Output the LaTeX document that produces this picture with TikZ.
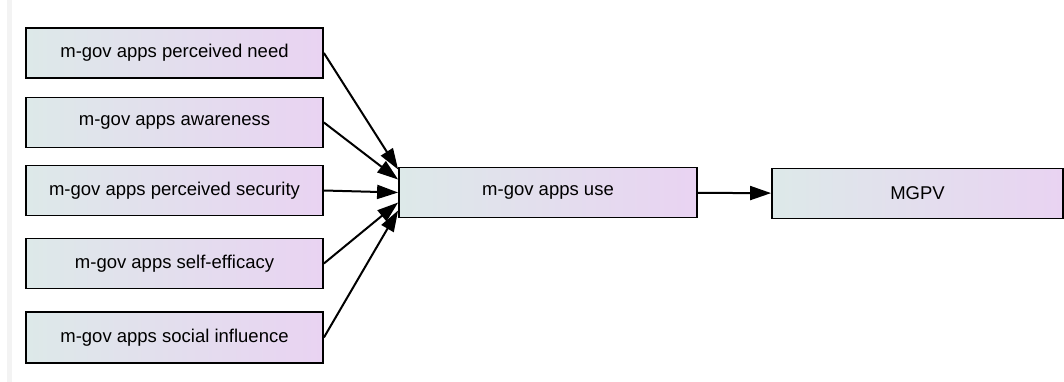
\documentclass[tikz,border=0pt]{standalone}
\usepackage{fontspec}
\setmainfont{Liberation Sans}
\usetikzlibrary{arrows.meta}
\definecolor{boxleft}{RGB}{221,233,233}
\definecolor{boxright}{RGB}{233,211,242}
\definecolor{sidebar}{RGB}{243,243,243}

\begin{document}
\begin{tikzpicture}[x=1pt,y=1pt,
  box/.style={draw, line width=1.8pt, left color=boxleft, right color=boxright,
    minimum width=297pt, minimum height=50pt, inner sep=0pt,
    font=\fontsize{18.5}{20}\selectfont},
  link/.style={line width=2pt, -{Triangle[length=21pt,width=14pt]}}]
 \useasboundingbox (0,0) rectangle (1064,-382);
 \fill[sidebar] (7,0) rectangle (12,-382);

  \draw (174.5,-53) node[box] (need) {m-gov apps perceived need};
  \draw (174.5,-122.5) node[box] (aware) {m-gov apps awareness};
  \draw (174.5,-190.5) node[box] (secur) {m-gov apps perceived security};
  \draw (174.5,-263.5) node[box] (effic) {m-gov apps self-efficacy};
  \draw (174.5,-337.5) node[box,minimum height=51pt] (social) {m-gov apps social influence};

   \draw (548,-192.5) node[box,minimum width=298pt] (use) {m-gov apps use};
   \draw (917.5,-193.5) node[box,minimum width=291pt] (mgpv) {MGPV};

     \path[link] (need.east) edge ([yshift=23pt]use.west);
     \path[link] (aware.east) edge ([yshift=13pt]use.west);
     \path[link] (secur.east) edge (use.west);
     \path[link] (effic.east) edge ([yshift=-10pt]use.west);
     \path[link] (social.east) edge ([yshift=-18pt]use.west);
     \path[link] (use) edge (mgpv);

\end{tikzpicture}
\end{document}
